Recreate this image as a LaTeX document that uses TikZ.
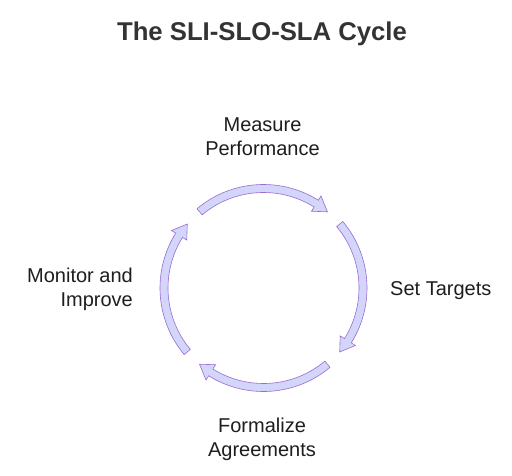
\documentclass[tikz,border=0pt]{standalone}
\usepackage{fontspec}
\setmainfont{Liberation Sans}
\usetikzlibrary{positioning}
\definecolor{arrowfill}{HTML}{D3D6FA}
\definecolor{arrowline}{HTML}{9B6BD0}
\definecolor{titlegray}{HTML}{333333}
\definecolor{labelgray}{HTML}{1E1E1E}
\tikzset{
  cyclearrow/.style={fill=arrowfill,draw=arrowline,line width=0.6pt,line join=miter},
  steplabel/.style={font=\fontsize{20}{23.5}\selectfont,text=labelgray,inner sep=0pt},
}
% one curved arrow of the cycle, clockwise from #1 to #2 (degrees)
\newcommand{\cyclepart}[2]{%
  \draw[cyclearrow] (#1:103.5) arc[start angle=#1,end angle=#2+8,radius=103.5]
    -- (#2+8:108.5) -- (#2:99.5) -- (#2+8:90.5) -- (#2+8:95.5)
    arc[start angle=#2+8,end angle=#1,radius=95.5] -- cycle;}

\begin{document}
\begin{tikzpicture}[x=1pt,y=1pt]
        \fill[white] (0,0) rectangle (512,475);
        \useasboundingbox (0,0) rectangle (512,475);
        \node[anchor=base,inner sep=0pt,text=titlegray,font=\fontsize{25.7}{30}\bfseries] (title) at (262,434) {The SLI-SLO-SLA Cycle};
        \begin{scope}[shift={(263.5,187)}]
            \foreach \a in {130,40,-50,-140}
                \cyclepart{\a}{\a-80};
        \end{scope}
        \node[steplabel,anchor=north,align=center] (measure) at (262.5,357) {Measure\\Performance};
        \node[steplabel,anchor=base west] (targets) at (390,180) {Set Targets};
        \node[steplabel,anchor=north,align=center] (formalize) at (262,57) {Formalize\\Agreements};
        \node[steplabel,anchor=north east,align=right] (monitor) at (133,207) {Monitor and\\Improve};
    \end{tikzpicture}
\end{document}
